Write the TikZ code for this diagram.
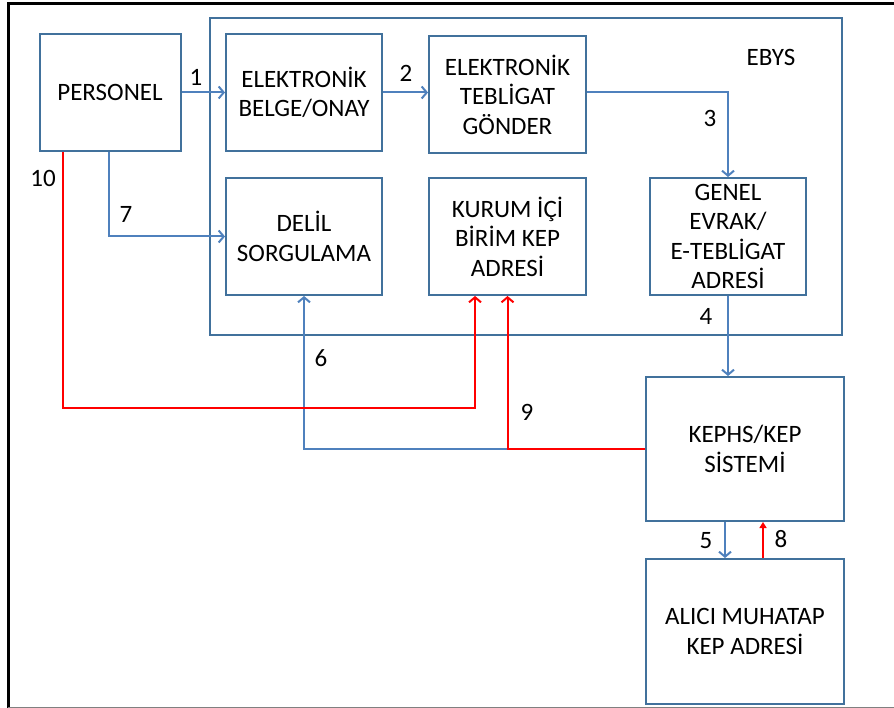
\documentclass[tikz,border=0pt]{standalone}
\usepackage{fontspec}
\setmainfont{Carlito}
\usetikzlibrary{arrows.meta}
\definecolor{boxblue}{HTML}{41719C}
\definecolor{linkblue}{HTML}{4F81BD}
\definecolor{linkred}{HTML}{FF0000}
\begin{document}
\begin{tikzpicture}[x=1pt,y=-1pt,
  every node/.style={font=\fontsize{25}{29.5}\selectfont, text=black},
  unit/.style={draw=boxblue, line width=2pt, inner sep=0pt, align=center,
               minimum width=#1},
  unit/.default=156pt,
  bluelink/.style={draw=linkblue, line width=2pt,
                   -{Straight Barb[length=5pt,width=12pt]}},
  redlink/.style={draw=linkred, line width=2pt,
                  -{Straight Barb[length=5pt,width=12pt]}},
  num/.style={inner sep=0pt}]
\useasboundingbox (0,0) rectangle (894,708);

% page frame
\draw[black, line width=3pt] (8,708) -- (8,3.5) -- (894,3.5);
\draw[gray, line width=1pt] (8,707) -- (894,707);

% EBYS container
\node[draw=boxblue, line width=2pt, minimum width=632pt, minimum height=317pt,
      inner sep=0pt] (ebys) at (526,176.5) {};
\node (ebyslbl) at (771,57) {EBYS};

% boxes
\node[unit=141pt, minimum height=117pt] (pers)   at (110,92.5)  {PERSONEL};
\node[unit, minimum height=117pt]       (belge)  at (304,92.5)  {ELEKTRONİK\\BELGE/ONAY};
\node[unit=157pt, minimum height=117pt] (teblig) at (507.5,94.5) {ELEKTRONİK\\TEBLİGAT\\GÖNDER};
\node[unit, minimum height=117pt]       (delil)  at (304,236.5) {DELİL\\SORGULAMA};
\node[unit=157pt, minimum height=117pt] (kurum)  at (507.5,236.5) {KURUM İÇİ\\BİRİM KEP\\ADRESİ};
\node[unit, minimum height=117pt]       (genel)  at (728,236.5) {GENEL\\EVRAK/\\E-TEBLİGAT\\ADRESİ};
\node[unit=198pt, minimum height=144pt] (kephs)  at (745,449)   {KEPHS/KEP\\SİSTEMİ};
\node[unit=198pt, minimum height=145pt] (alici)  at (745,631.5) {ALICI MUHATAP\\KEP ADRESİ};

% connector end points
\coordinate (p7)  at ([xshift=-1pt]pers.south);
\coordinate (p10) at ([xshift=-47pt]pers.south);
\coordinate (k10) at ([xshift=-32.5pt]kurum.south);
\coordinate (r10) at (k10 |- 0,408);
\coordinate (k5a) at ([xshift=-20pt]kephs.south);
\coordinate (a5)  at ([xshift=-20pt]alici.north);
\coordinate (a8)  at ([xshift=18pt]alici.north);
\coordinate (k8)  at ([xshift=18pt]kephs.south);

% blue flow
\draw[bluelink] (pers.east) -- (belge.west);
\draw[bluelink] (belge.east) -- (belge.east -| teblig.west);
\draw[bluelink] (belge.east -| teblig.east) -| (genel.north);
\draw[bluelink] (genel.south) -- (genel.south |- kephs.north);
\draw[bluelink] (k5a) -- (a5);
\draw[bluelink] (kephs.west) -| (delil.south);
\draw[bluelink] (p7) |- (delil.west);

% red flow
\draw[redlink] (kephs.west) -| (kurum.south);
\draw[redlink] (p10) |- (r10) -- (k10);
\draw[draw=linkred, line width=2pt, -{Triangle[length=6pt,width=7pt]}] (a8) -- (k8);

% step numbers
\node[num] (n1)  at (196,77)  {1};
\node[num] (n2)  at (406,73)  {2};
\node[num] (n3)  at (710,118) {3};
\node[num] (n4)  at (706,316) {4};
\node[num] (n5)  at (706,541) {5};
\node[num] (n6)  at (321,358) {6};
\node[num] (n7)  at (126,214) {7};
\node[num] (n8)  at (781,539) {8};
\node[num] (n9)  at (527,412) {9};
\node[num] (n10) at (43,178)  {10};
\end{tikzpicture}
\end{document}
